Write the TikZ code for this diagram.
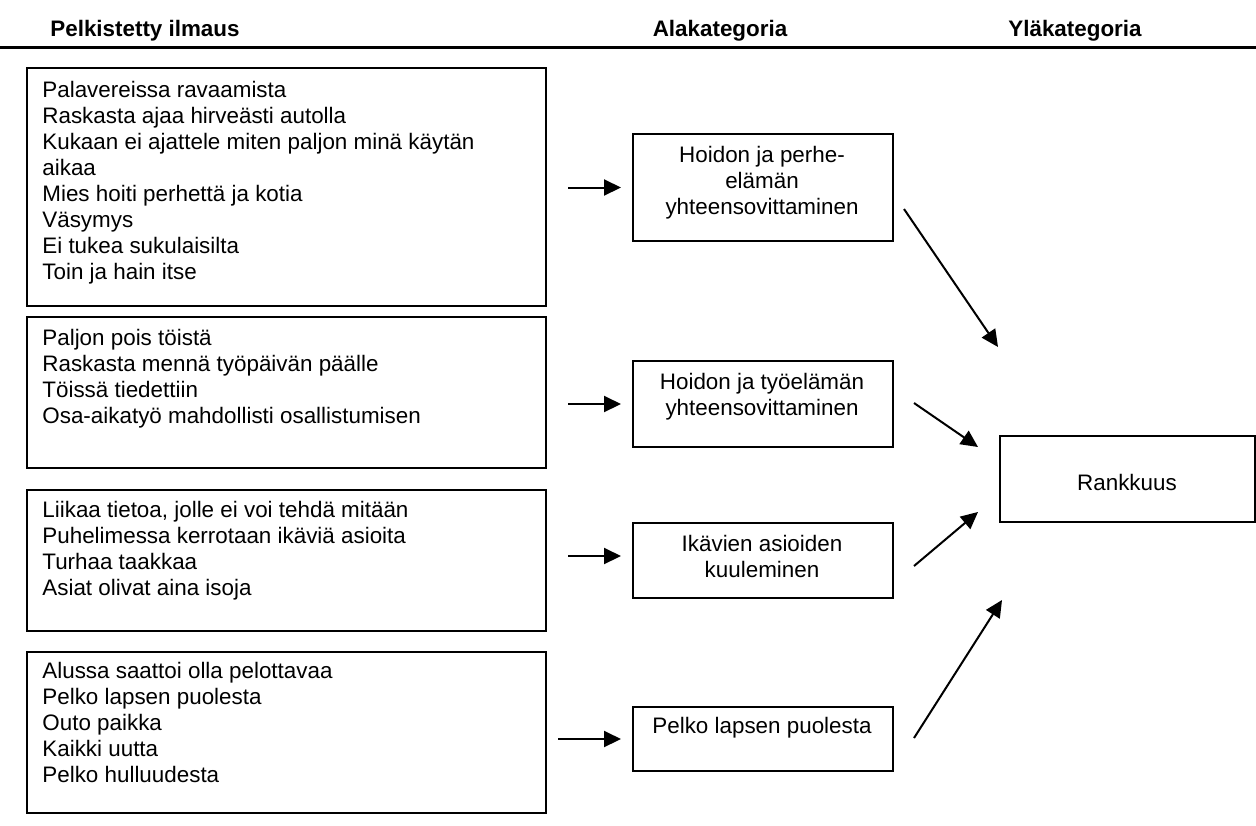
\documentclass[tikz,border=0pt]{standalone}
\usepackage{fontspec}
\setmainfont{Liberation Sans}
\usetikzlibrary{arrows.meta}
\begin{document}
\begin{tikzpicture}[x=0.5pt,y=-0.5pt,
  box/.style={draw, line width=1pt, inner sep=0pt, anchor=north west},
  txt/.style={inner sep=0pt, font=\fontsize{11.2pt}{13pt}\selectfont},
  % multi-line texts are placed by the baseline of their last line
  list/.style={txt, anchor=base west, align=left},
  cat/.style={txt, anchor=base, align=center},
  head/.style={inner sep=0pt, anchor=base, font=\bfseries\fontsize{11.2pt}{13pt}\selectfont},
  arr/.style={line width=1pt, -{Triangle[length=8.5pt,width=8pt]}}]
\useasboundingbox (0,0) rectangle (1256,825);

% column headings and rule
\node[head] (h1) at (145,36) {Pelkistetty ilmaus};
\node[head] (h2) at (720,36) {Alakategoria};
\node[head] (h3) at (1075,36) {Yläkategoria};
\draw[line width=1.2pt] (0,47.5) -- (1256,47.5);

% reduced expressions
\node[box, minimum width=259.5pt, minimum height=119pt] (l1) at (26,67) {};
\node[list] (t1) at (42,279) {Palavereissa ravaamista\\Raskasta ajaa hirveästi autolla\\Kukaan ei ajattele miten paljon minä käytän\\aikaa\\Mies hoiti perhettä ja kotia\\Väsymys\\Ei tukea sukulaisilta\\Toin ja hain itse};

\node[box, minimum width=259.5pt, minimum height=75.5pt] (l2) at (26,316) {};
\node[list] (t2) at (42,423) {Paljon pois töistä\\Raskasta mennä työpäivän päälle\\Töissä tiedettiin\\Osa-aikatyö mahdollisti osallistumisen};

\node[box, minimum width=259.5pt, minimum height=70.5pt] (l3) at (26,489) {};
\node[list] (t3) at (42,595) {Liikaa tietoa, jolle ei voi tehdä mitään\\Puhelimessa kerrotaan ikäviä asioita\\Turhaa taakkaa\\Asiat olivat aina isoja};

\node[box, minimum width=259.5pt, minimum height=80.5pt] (l4) at (26,651) {};
\node[list] (t4) at (42,782) {Alussa saattoi olla pelottavaa\\Pelko lapsen puolesta\\Outo paikka\\Kaikki uutta\\Pelko hulluudesta};

% subcategories
\node[box, minimum width=130pt, minimum height=53.5pt] (a) at (632,133) {};
\node[cat] (ta) at (762,214) {Hoidon ja perhe-\\elämän\\yhteensovittaminen};

\node[box, minimum width=130pt, minimum height=43pt] (b) at (632,360) {};
\node[cat] (tb) at (762,415) {Hoidon ja työelämän\\yhteensovittaminen};

\node[box, minimum width=130pt, minimum height=37.5pt] (c) at (632,522) {};
\node[cat] (tc) at (762,577) {Ikävien asioiden\\kuuleminen};

\node[box, minimum width=130pt, minimum height=32pt] (d) at (632,706) {};
\node[cat] (td) at (762,733) {Pelko lapsen puolesta};

% main category
\node[box, minimum width=127.5pt, minimum height=43pt] (r) at (999,435) {};
\node[cat] (tr) at (1127,490) {Rankkuus};

% expressions -> subcategories
\draw[arr, shorten <=10.5pt, shorten >=5.5pt] (l1.east |- a.west) -- (a.west);
\draw[arr, shorten <=10.5pt, shorten >=5.5pt] (l2.east |- b.west) -- (b.west);
\draw[arr, shorten <=10.5pt, shorten >=5.5pt] ([yshift=2.25pt]l3.east |- c.west) -- ([yshift=2.25pt]c.west);
\draw[arr, shorten <=5.5pt, shorten >=5.5pt] (l4.east |- d.west) -- (d.west);

% subcategories -> main category
\draw[arr] ([shift={(10,21.5)}]a.east) -- ([shift={(-1,-88)}]r.north west);
\draw[arr] ([shift={(20,-1)}]b.east) -- ([shift={(-21,-32)}]r.west);
\draw[arr] ([shift={(20,5.5)}]c.east) -- ([shift={(-21,33)}]r.west);
\draw[arr] ([shift={(20,-1)}]d.east) -- ([shift={(3,77)}]r.south west);
\end{tikzpicture}
\end{document}
